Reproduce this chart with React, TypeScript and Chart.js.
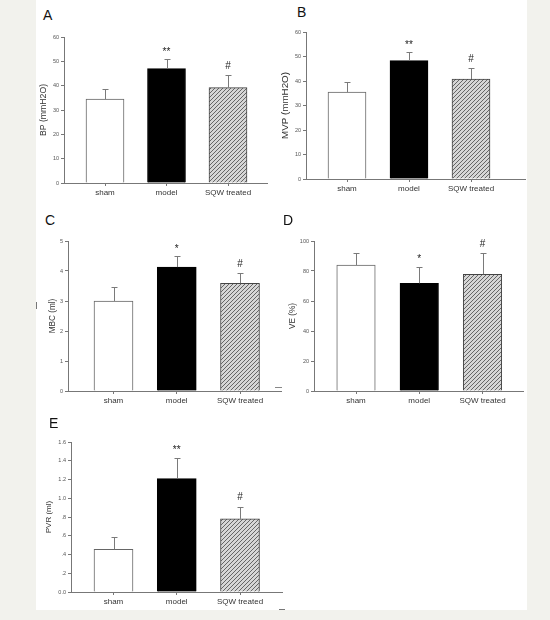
import React, { useEffect, useRef } from 'react';
import { Chart, registerables } from 'chart.js';

Chart.register(...registerables);

// ---------- data ----------
const categories = ['sham', 'model', 'SQW treated'];

const bpMeans = [34.5, 47.0, 39.2];
const bpErrors = [4.0, 3.8, 5.1];
const bpMarks = ['', '**', '#'];

const mvpMeans = [35.5, 48.3, 40.8];
const mvpErrors = [4.1, 3.4, 4.4];
const mvpMarks = ['', '**', '#'];

const mbcMeans = [3.0, 4.13, 3.59];
const mbcErrors = [0.47, 0.37, 0.34];
const mbcMarks = ['', '*', '#'];

const veMeans = [84, 71.8, 77.8];
const veErrors = [7.8, 11.2, 14.0];
const veMarks = ['', '*', '#'];

const pvrMeans = [0.455, 1.21, 0.78];
const pvrErrors = [0.135, 0.22, 0.13];
const pvrMarks = ['', '**', '#'];

const panelLetters = ['A', 'B', 'C', 'D', 'E'];
const yTitles = ['BP (mmH2O)', 'MVP (mmH2O)', 'MBC (ml)', 'VE (%)', 'PVR (ml)'];
const yMaxes = [60, 60, 5, 100, 1.6];
const ySteps = [10, 10, 1, 20, 0.2];

// ---------- layout / style ----------
const FONT = "'Liberation Sans', Arial, Helvetica, sans-serif";
const PAD_TOP = 12;
const PAD_RIGHT = 8;
const X_AXIS_H = 24;

type Layout = {
  x0: number; top: number; bottom: number; xEnd: number;
  c0: number; spacing: number; titleX: number; bar: number; titleSize: number;
  letterX: number; letterY: number;
};

const layouts: Layout[] = [
  { x0: 64, top: 37, bottom: 183, xEnd: 267, c0: 105, spacing: 61.5, titleX: 43, bar: 38, titleSize: 8.7, letterX: 43, letterY: 8 },
  { x0: 306, top: 32, bottom: 179, xEnd: 525, c0: 347, spacing: 62, titleX: 285, bar: 38, titleSize: 9.8, letterX: 297, letterY: 5 },
  { x0: 68, top: 241, bottom: 391, xEnd: 281, c0: 113.5, spacing: 63.25, titleX: 53, bar: 39, titleSize: 8.2, letterX: 45, letterY: 213 },
  { x0: 314, top: 241, bottom: 391, xEnd: 523, c0: 356, spacing: 63.25, titleX: 293, bar: 38.5, titleSize: 8.2, letterX: 283, letterY: 213 },
  { x0: 71, top: 442, bottom: 592, xEnd: 282, c0: 113.5, spacing: 63.25, titleX: 49, bar: 39, titleSize: 8, letterX: 49, letterY: 416 },
];

const seriesMeans = [bpMeans, mvpMeans, mbcMeans, veMeans, pvrMeans];
const seriesErrors = [bpErrors, mvpErrors, mbcErrors, veErrors, pvrErrors];
const seriesMarks = [bpMarks, mvpMarks, mbcMarks, veMarks, pvrMarks];

function makeHatch(ctx: CanvasRenderingContext2D) {
  const t = document.createElement('canvas');
  t.width = 4;
  t.height = 4;
  const g = t.getContext('2d')!;
  g.fillStyle = '#d6d6d6';
  g.fillRect(0, 0, 4, 4);
  g.strokeStyle = '#666';
  g.lineWidth = 1;
  g.beginPath();
  g.moveTo(0, 4); g.lineTo(4, 0);
  g.moveTo(-1, 1); g.lineTo(1, -1);
  g.moveTo(3, 5); g.lineTo(5, 3);
  g.stroke();
  return ctx.createPattern(t, 'repeat');
}

const errorPlugin = {
  id: 'errs',
  afterDatasetsDraw(chart: any, _args: any, opts: any) {
    const { ctx } = chart;
    const meta = chart.getDatasetMeta(0);
    const ys = chart.scales.y;
    ctx.save();
    opts.means.forEach((m: number, i: number) => {
      const el = meta.data[i];
      if (!el) return;
      const x = Math.round(el.x) + 0.5;
      const yBar = el.y;
      const yErr = ys.getPixelForValue(m + opts.errors[i]);
      ctx.strokeStyle = '#7a7a7a';
      ctx.lineWidth = 1;
      ctx.beginPath();
      ctx.moveTo(x, yBar);
      ctx.lineTo(x, Math.round(yErr) + 0.5);
      ctx.moveTo(x - 3, Math.round(yErr) + 0.5);
      ctx.lineTo(x + 3, Math.round(yErr) + 0.5);
      ctx.stroke();
      const mark = opts.marks[i];
      if (mark) {
        ctx.fillStyle = '#222';
        ctx.font = `10px ${FONT}`;
        ctx.textAlign = 'center';
        ctx.textBaseline = 'alphabetic';
        ctx.fillText(mark, el.x, yErr - (mark === '#' ? 6.5 : 4.5));
      }
    });
    ctx.restore();
  },
};

function Panel({ idx }: { idx: number }) {
  const ref = useRef<HTMLCanvasElement | null>(null);
  const L = layouts[idx];
  const canvasLeft = Math.round(L.titleX - (L.titleSize * 1.2) / 2);
  const yW = L.x0 - canvasLeft;
  const canvasTop = L.top - PAD_TOP;
  const h = PAD_TOP + (L.bottom - L.top) + X_AXIS_H;
  const w = L.xEnd - canvasLeft + PAD_RIGHT;

  useEffect(() => {
    const canvas = ref.current!;
    const ctx = canvas.getContext('2d')!;
    const hatch = makeHatch(ctx);
    const means = seriesMeans[idx];
    const errors = seriesErrors[idx];
    const marks = seriesMarks[idx];
    const xMin = (L.x0 - L.c0) / L.spacing;
    const xMax = (L.xEnd - L.c0) / L.spacing;
    const isPvr = idx === 4;
    const axisColor = '#777';

    const chart = new Chart(canvas, {
      type: 'bar',
      data: {
        datasets: [
          {
            data: means.map((m, i) => ({ x: i, y: m })),
            backgroundColor: ['#ffffff', '#000000', hatch as any],
            borderColor: ['#666', '#000', '#444'],
            borderWidth: 1,
            barThickness: L.bar,
          },
        ],
      },
      options: {
        responsive: false,
        animation: false,
        devicePixelRatio: 1,
        layout: { padding: { top: PAD_TOP, right: PAD_RIGHT, bottom: 0, left: 0 } },
        plugins: {
          legend: { display: false },
          tooltip: { enabled: false },
          errs: { means, errors, marks },
        } as any,
        scales: {
          x: {
            type: 'linear',
            min: xMin,
            max: xMax,
            offset: false,
            afterBuildTicks: (s: any) => {
              s.ticks = categories.map((_, i) => ({ value: i }));
            },
            afterFit: (s: any) => {
              s.height = X_AXIS_H;
            },
            ticks: {
              autoSkip: false,
              maxRotation: 0,
              padding: 2,
              color: '#333',
              font: { family: FONT, size: 8 },
              callback: (v: any) => categories[v as number] ?? '',
            },
            grid: { display: true, offset: false, drawOnChartArea: false, drawTicks: true, tickLength: 3, color: axisColor },
            border: { display: true, color: axisColor, width: 1 },
          },
          y: {
            type: 'linear',
            min: 0,
            max: yMaxes[idx],
            afterFit: (s: any) => {
              s.width = yW;
            },
            ticks: {
              stepSize: ySteps[idx],
              padding: 2,
              color: '#555',
              font: { family: FONT, size: 5.5 },
              callback: (v: any) => {
                const n = Number(v);
                if (!isPvr) return String(Math.round(n));
                if (Math.abs(n) < 1e-9) return '0.0';
                return n.toFixed(1).replace(/^0/, '');
              },
            },
            title: {
              display: true,
              text: yTitles[idx],
              color: '#333',
              padding: 0,
              font: { family: FONT, size: L.titleSize },
            },
            grid: { display: true, drawOnChartArea: false, drawTicks: true, tickLength: 3, color: axisColor },
            border: { display: true, color: axisColor, width: 1 },
          },
        },
      } as any,
      plugins: [errorPlugin as any],
    });
    return () => chart.destroy();
  }, []);

  return (
    <>
      <canvas
        ref={ref}
        width={w}
        height={h}
        style={{ position: 'absolute', left: canvasLeft, top: canvasTop, width: w, height: h }}
      />
      <div
        style={{
          position: 'absolute',
          left: L.letterX,
          top: L.letterY,
          fontFamily: FONT,
          fontSize: 14,
          lineHeight: '14px',
          color: '#111',
        }}
      >
        {panelLetters[idx]}
      </div>
    </>
  );
}

export default function App() {
  return (
    <div
      style={{
        position: 'fixed',
        left: 0,
        top: 0,
        width: 550,
        height: 620,
        background: '#f2f2ed',
        overflow: 'hidden',
      }}
    >
      <div style={{ position: 'absolute', left: 36, top: 0, width: 491, height: 610, background: '#ffffff' }} />
      {layouts.map((_, i) => (
        <Panel key={i} idx={i} />
      ))}
      <div style={{ position: 'absolute', left: 36, top: 302, width: 1, height: 7, background: '#777' }} />
      <div style={{ position: 'absolute', left: 275, top: 387, width: 7, height: 1, background: '#888' }} />
      <div style={{ position: 'absolute', left: 279, top: 609, width: 6, height: 1, background: '#777' }} />
    </div>
  );
}
